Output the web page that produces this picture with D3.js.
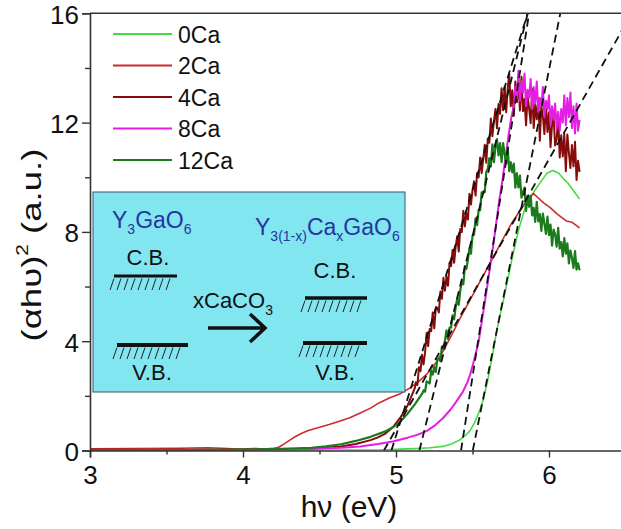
<!DOCTYPE html>
<html>
<head>
<meta charset="utf-8">
<script src="https://cdn.jsdelivr.net/npm/d3@7"></script>
<style>
  html, body { margin: 0; padding: 0; background: #fff; }
  svg { display: block; font-family: "Liberation Sans", Arial, sans-serif; }
</style>
</head>
<body>
<svg id="chart" width="621" height="529"></svg>
<script>
// ---- Tauc plot data: (alpha h nu)^2 versus photon energy (eV) ----
const sampleNames = ["0Ca", "2Ca", "4Ca", "8Ca", "12Ca"];

const xTicks = [3, 4, 5, 6];
const xMinorTicks = [3.5, 4.5, 5.5, 6.5];
const yTicks = [0, 4, 8, 12, 16];
const yMinorTicks = [2, 6, 10, 14];

// 0Ca and 2Ca: smooth spectra, [energy, value]
const ca0 = [[3.0,0.01],[3.478,0.01],[3.865,0.02],[4.01,0.05],[4.078,0.08],[4.156,0.04],[4.349,0.02],
  [4.64,0.02],[4.931,0.03],[5.028,0.05],[5.124,0.07],[5.221,0.1],[5.308,0.15],[5.366,0.25],[5.415,0.38],
  [5.453,0.55],[5.483,0.72],[5.512,1.0],[5.541,1.38],[5.57,1.85],[5.599,2.55],[5.628,3.4],[5.657,4.35],
  [5.686,5.1],[5.706,5.6],[5.754,6.9],[5.802,8.1],[5.851,9.0],[5.899,9.45],[5.948,9.85],[5.987,10.15],
  [6.025,10.25],[6.064,10.15],[6.093,9.95],[6.122,9.8],[6.161,9.5],[6.2,9.2]];

const ca2 = [[3.0,0.06],[3.284,0.07],[3.575,0.08],[3.768,0.1],[3.865,0.08],[3.962,0.05],[4.059,0.05],
  [4.156,0.06],[4.204,0.08],[4.233,0.12],[4.272,0.25],[4.311,0.4],[4.349,0.53],[4.388,0.64],[4.427,0.73],
  [4.495,0.84],[4.563,0.95],[4.63,1.07],[4.698,1.2],[4.766,1.37],[4.834,1.55],[4.892,1.75],[4.96,1.93],
  [5.028,2.08],[5.096,2.3],[5.153,2.55],[5.202,2.8],[5.26,3.2],[5.308,3.64],[5.366,4.25],[5.415,4.8],
  [5.512,5.8],[5.609,6.8],[5.676,7.5],[5.754,8.3],[5.831,8.95],[5.87,9.25],[5.899,9.4],[5.928,9.25],
  [5.967,9.05],[6.006,8.9],[6.054,8.65],[6.113,8.4],[6.151,8.35],[6.2,8.15]];

// 4Ca, 8Ca, 12Ca: smooth onset, then noisy readings every 0.01 eV
const readingStep = 0.01;

const ca4Onset = [[3.0,0.03],[3.187,0.03],[3.381,0.02],[3.575,0.03],[3.768,0.03],[3.962,0.03],[4.156,0.04],
  [4.349,0.05],[4.446,0.07],[4.543,0.1],[4.64,0.15],[4.737,0.24],[4.834,0.38],[4.882,0.48],[4.931,0.62],
  [4.979,0.85],[5.028,1.2],[5.076,1.65],[5.124,2.3]];
const ca4FromEnergy = 5.13;
const ca4Noisy = [2.5,2.4,3.05,2.9,3.5,3.15,3.6,4.3,3.82,4.45,4.37,5.05,4.47,5.2,5.22,5.05,5.82,5.55,6.32,5.85,
  6.35,6.03,6.87,6.75,7.34,6.87,7.46,7.84,7.28,8.11,7.99,8.77,8.2,8.68,8.45,9.4,9.0,9.52,9.85,9.33,
  10.16,9.99,10.72,10.15,10.65,11.19,10.53,11.42,11.26,12.15,11.5,12.05,12.5,11.79,12.68,12.32,13.26,12.45,
  13.32,12.38,13.24,13.78,12.6,13.18,12.25,13.5,12.75,13.5,12.44,13.68,12.42,12.86,11.9,12.96,12.52,11.98,
  13.24,11.8,12.66,12.12,12.88,11.34,12.6,12.24,11.58,12.72,11.66,12.38,11.1,11.92,12.24,11.16,11.38,12.2,
  10.72,11.54,10.76,11.58,10.22,11.56,10.9,10.34,11.18,10.4,11.3,9.9,10.6,10.2];

const ca8Onset = [[3.0,0.0],[3.478,0.01],[3.962,0.02],[4.253,0.04],[4.446,0.06],[4.64,0.1],[4.766,0.15],
  [4.882,0.24],[4.979,0.33],[5.076,0.47],[5.144,0.58],[5.202,0.72],[5.25,0.9],[5.308,1.19],[5.357,1.5],
  [5.395,1.8],[5.434,2.12],[5.463,2.45],[5.483,2.75],[5.502,3.13],[5.521,3.55],[5.541,4.0],[5.56,4.7],
  [5.58,5.4],[5.599,6.1],[5.618,6.85],[5.638,7.6],[5.657,8.4],[5.676,9.2],[5.696,9.9],[5.715,10.7],
  [5.735,11.5],[5.754,12.2]];
const ca8FromEnergy = 5.77;
const ca8Noisy = [12.6,13.3,12.9,13.9,12.8,13.5,13.1,13.8,12.6,13.2,12.9,13.6,12.5,13.3,12.7,13.5,12.4,12.9,
  12.6,13.3,12.2,12.8,12.5,13.0,11.9,12.6,12.1,12.7,11.8,12.4,11.7,12.5,12.0,13.0,11.9,12.9,12.2,13.1,
  11.8,12.6,11.6,12.7,11.7,12.1];

const ca12Onset = [[3.0,0.01],[3.478,0.01],[3.962,0.03],[4.253,0.06],[4.446,0.1],[4.543,0.15],[4.64,0.23],
  [4.737,0.35],[4.834,0.5],[4.931,0.7],[4.979,0.85],[5.028,1.05],[5.076,1.35],[5.124,1.7],[5.173,2.1]];
const ca12FromEnergy = 5.18;
const ca12Noisy = [2.2,2.15,2.53,2.5,2.45,2.92,2.78,3.05,2.87,3.33,3.35,3.27,3.8,3.72,4.02,4.4,4.08,4.5,4.5,4.95,
  4.8,5.25,5.55,5.33,5.85,6.2,6.08,6.75,6.65,6.98,7.4,7.2,7.85,7.9,8.5,8.25,8.8,8.8,9.45,9.45,
  9.45,10.2,10.3,10.7,10.4,11.2,10.55,11.1,11.4,10.8,11.25,10.55,11.25,10.85,10.5,11.1,10.22,10.55,10.18,10.5,
  9.62,10.15,9.63,10.06,9.25,9.47,9.62,8.77,9.32,8.92,9.32,8.6,8.88,8.37,9.1,8.38,8.65,8.04,8.67,8.3,
  7.93,8.56,7.88,8.27,7.5,8.08,7.92,7.46,8.15,7.39,7.63,7.1,7.77,7.2,7.58,6.85,7.32,7.05,6.68,7.3,
  6.62,6.85,6.6];

// Linear fits to the absorption edges: [energy, value] end points
const fit0Ca = [[5.502,0],[6.074,16]];
const fit2Ca = [[4.921,0],[6.5,15.6]];
const fit4Ca = [[4.970,0],[5.861,16]];
const fit8Ca = [[5.425,0],[5.870,16]];
const fit12Ca = [[5.153,0],[5.861,16]];

// ---- assemble series ----
function withReadings(onset, start, values) {
  return onset.concat(values.map((v, i) => [+(start + i * readingStep).toFixed(2), v]));
}
const seriesData = [
  ca0,
  ca2,
  withReadings(ca4Onset, ca4FromEnergy, ca4Noisy),
  withReadings(ca8Onset, ca8FromEnergy, ca8Noisy),
  withReadings(ca12Onset, ca12FromEnergy, ca12Noisy)
];
const fits = [fit0Ca, fit2Ca, fit4Ca, fit8Ca, fit12Ca];

const colors = ["#45db45", "#cc2b2b", "#860b0b", "#e41ee4", "#1b7a1b"];
const widths = [1.6, 1.6, 2, 2, 2.2];

// ---- layout ----
const svg = d3.select("#chart");
const plotL = 90, plotR = 625.5, plotT = 13.3, plotB = 450.5;

const x = d3.scaleLinear().domain([3, 6.5]).range([plotL, plotR]);
const y = d3.scaleLinear().domain([0, 16]).range([plotB, plotT]);

svg.append("defs").append("clipPath").attr("id", "plotClip")
  .append("rect").attr("x", plotL).attr("y", plotT).attr("width", plotR - plotL).attr("height", plotB - plotT);

const line = d3.line().x(d => x(d[0])).y(d => y(d[1]));

// spectra
const curves = svg.append("g").attr("clip-path", "url(#plotClip)");
seriesData.forEach((data, i) => {
  curves.append("path")
    .datum(data)
    .attr("d", line)
    .attr("fill", "none")
    .attr("stroke", colors[i])
    .attr("stroke-width", widths[i])
    .attr("stroke-linejoin", "round");
});

// band-gap extrapolation lines
fits.forEach(f => {
  curves.append("path")
    .datum(f)
    .attr("d", line)
    .attr("fill", "none")
    .attr("stroke", "#111")
    .attr("stroke-width", 1.8)
    .attr("stroke-dasharray", "8,5");
});

// ---- axes ----
const axisColor = "#333";
svg.append("g").attr("transform", `translate(0,${plotB})`)
  .call(d3.axisBottom(x).tickValues(xTicks).tickSize(7).tickPadding(8).tickFormat(d3.format("d")));
svg.append("g").attr("transform", `translate(0,${plotB})`)
  .call(d3.axisBottom(x).tickValues(xMinorTicks).tickSize(4).tickFormat(""))
  .call(g => g.select(".domain").remove());

const yAxisG = svg.append("g").attr("transform", `translate(${plotL},0)`)
  .call(d3.axisLeft(y).tickValues(yTicks).tickSize(8).tickPadding(3).tickFormat(d3.format("d")));
yAxisG.selectAll(".tick text").attr("dy", "0.38em");
svg.append("g").attr("transform", `translate(${plotL},0)`)
  .call(d3.axisLeft(y).tickValues(yMinorTicks).tickSize(5).tickFormat(""))
  .call(g => g.select(".domain").remove());

svg.selectAll(".domain").attr("stroke", axisColor).attr("stroke-width", 1.6);
svg.selectAll(".tick line").attr("stroke", axisColor).attr("stroke-width", 1.4);
svg.selectAll(".tick text").attr("font-size", 26).attr("fill", "#111")
  .attr("font-family", "'Liberation Sans', Arial, sans-serif");

// top frame
svg.append("line").attr("x1", plotL).attr("x2", plotR).attr("y1", plotT).attr("y2", plotT)
  .attr("stroke", axisColor).attr("stroke-width", 1.6);

// axis titles
svg.append("text")
  .attr("x", 349).attr("y", 517)
  .attr("text-anchor", "middle")
  .attr("font-size", 30).attr("fill", "#111")
  .text("h\u03bd (eV)");

const yTitle = svg.append("text")
  .attr("transform", "translate(41,245) rotate(-90)")
  .attr("text-anchor", "middle")
  .attr("font-size", 28).attr("fill", "#111");
yTitle.append("tspan").text("(\u03b1h\u03c5)");
yTitle.append("tspan").attr("font-size", 16).attr("dy", -13).text("2");
yTitle.append("tspan").attr("dy", 13).text(" (a.u.)");
// stretch the title along its length to span the axis height it occupies
const titleLen = yTitle.node().getComputedTextLength();
if (titleLen > 0) {
  yTitle.attr("transform", `translate(41,245) rotate(-90) scale(${193 / titleLen},1)`);
}

// ---- legend ----
const legend = svg.append("g");
sampleNames.forEach((name, i) => {
  const ly = 34 + i * 31.5;
  legend.append("line").attr("x1", 113).attr("x2", 172).attr("y1", ly).attr("y2", ly)
    .attr("stroke", colors[i]).attr("stroke-width", 2.2);
  legend.append("text").attr("x", 178).attr("y", ly + 8.5)
    .attr("font-size", 23).attr("fill", "#111").text(name);
});

// ---- inset: band-edge schematic ----
const inset = svg.append("g");
inset.append("rect").attr("x", 93).attr("y", 192).attr("width", 312).attr("height", 200)
  .attr("fill", "#82e6f1").attr("stroke", "#3d5566").attr("stroke-width", 1);

const blue = "#27359e";
function formula(gx, gy, parts) {
  const t = inset.append("text").attr("x", gx).attr("y", gy).attr("fill", blue).attr("font-size", 23);
  let shifted = false;
  parts.forEach(p => {
    if (p.sub) {
      t.append("tspan").attr("font-size", 14).attr("dy", 6).text(p.sub);
      shifted = true;
    } else {
      t.append("tspan").attr("dy", shifted ? -6 : 0).text(p.t);
      shifted = false;
    }
  });
}
formula(112, 228, [{t: "Y"}, {sub: "3"}, {t: "GaO"}, {sub: "6"}]);
formula(255, 235, [{t: "Y"}, {sub: "3(1-x)"}, {t: "Ca"}, {sub: "x"}, {t: "GaO"}, {sub: "6"}]);

function label(cx, by, s) {
  inset.append("text").attr("x", cx).attr("y", by).attr("text-anchor", "middle")
    .attr("font-size", 22).attr("fill", "#111").text(s);
}
label(148, 265, "C.B.");
label(335, 278, "C.B.");
label(152, 380, "V.B.");
label(335, 380, "V.B.");

function level(x1, x2, ly, w) {
  inset.append("line").attr("x1", x1).attr("x2", x2).attr("y1", ly).attr("y2", ly)
    .attr("stroke", "#111").attr("stroke-width", w);
  for (let hx = x1 - 4; hx <= x2 - 6; hx += 7) {
    inset.append("line").attr("x1", hx).attr("y1", ly + 14).attr("x2", hx + 4).attr("y2", ly + 2.5)
      .attr("stroke", "#222").attr("stroke-width", 1);
  }
}
level(114, 177, 276, 3);
level(117, 188, 345, 4);
level(305, 367, 298, 3.5);
level(303, 367, 343, 4);

const cc = inset.append("text").attr("x", 193).attr("y", 308).attr("font-size", 22).attr("fill", "#111");
cc.append("tspan").text("xCaCO");
cc.append("tspan").attr("font-size", 14).attr("dy", 7).text("3");

inset.append("line").attr("x1", 208).attr("x2", 264).attr("y1", 328).attr("y2", 328)
  .attr("stroke", "#111").attr("stroke-width", 3.5);
inset.append("path").attr("d", "M250,314 L265,328 L250,342")
  .attr("fill", "none").attr("stroke", "#111").attr("stroke-width", 3.5);
</script>
</body>
</html>
